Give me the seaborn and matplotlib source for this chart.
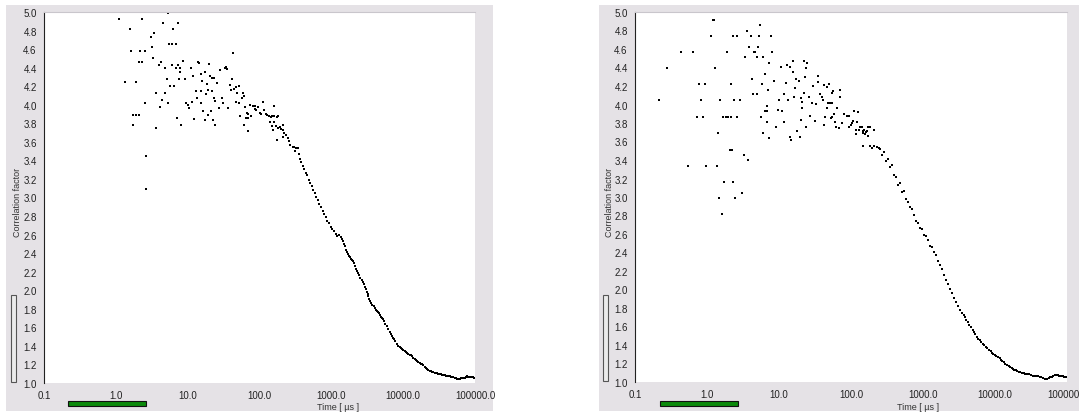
import matplotlib
matplotlib.use("Agg")
import matplotlib.pyplot as plt
import seaborn as sns
import pandas as pd
from matplotlib.patches import Rectangle

# ---------------- data ----------------
left_time_scatter = [
    1.12, 2.28, 5.25, 1.60, 4.47, 7.24, 6.17, 3.45, 3.04, 5.42,
    5.97, 6.79, 3.14, 1.65, 2.20, 2.51, 42.6, 3.34, 2.13, 2.35,
    4.19, 3.93, 8.51, 5.97, 7.24, 4.77, 6.79, 7.73, 11.0, 13.8,
    14.3, 19.7, 7.73, 15.2, 17.3, 11.7, 28.1, 32.9, 34.0, 35.1,
    20.3, 21.7, 5.08, 7.48, 9.08, 15.7, 23.1, 41.2, 1.36, 1.88,
    18.5, 25.5, 5.60, 6.37, 38.6, 46.9, 51.6, 39.9, 44.0, 19.1,
    12.9, 15.2, 21.7, 48.4, 58.7, 60.7, 3.68, 4.77, 17.9, 56.9,
    13.4, 23.1, 23.9, 29.9, 4.33, 9.38, 10.0, 11.4, 2.51, 5.25,
    15.2, 30.9, 46.9, 51.6, 62.7, 73.6, 81.1, 86.5, 95.3, 112,
    160, 4.06, 10.3, 27.2, 36.3, 66.8, 69.0, 86.5, 89.3, 116,
    16.2, 21.0, 1.76, 1.88, 2.13, 19.1, 102, 105, 123, 127,
    136, 145, 150, 160, 176, 182, 53.3, 64.7, 69.0, 76.0,
    7.01, 12.1, 17.3, 22.4, 1.76, 7.98, 23.9, 60.7, 140, 150,
    160, 170, 182, 194, 200, 213, 213, 3.68, 69.0, 155,
    220, 235, 251, 259, 176, 213, 267, 294, 304, 324,
    345, 314, 357, 368, 2.59, 2.67,
]
left_corr_scatter = [
    4.92, 4.92, 4.99, 4.82, 4.88, 4.88, 4.82, 4.77, 4.73, 4.655,
    4.655, 4.655, 4.62, 4.58, 4.58, 4.58, 4.56, 4.50, 4.46, 4.46,
    4.46, 4.43, 4.47, 4.43, 4.43, 4.40, 4.40, 4.40, 4.40, 4.46,
    4.45, 4.44, 4.35, 4.33, 4.35, 4.31, 4.37, 4.40, 4.41, 4.39,
    4.31, 4.29, 4.28, 4.28, 4.28, 4.26, 4.29, 4.28, 4.245, 4.245,
    4.22, 4.23, 4.20, 4.20, 4.21, 4.19, 4.20, 4.16, 4.17, 4.16,
    4.15, 4.15, 4.15, 4.13, 4.13, 4.09, 4.13, 4.13, 4.12, 4.07,
    4.07, 4.07, 4.04, 4.07, 4.05, 4.02, 4.00, 4.03, 4.02, 4.02,
    4.02, 4.02, 4.03, 4.02, 3.98, 4.00, 3.99, 3.99, 3.98, 4.03,
    3.99, 3.98, 3.965, 3.965, 3.965, 3.91, 3.90, 3.95, 3.94, 3.94,
    3.93, 3.93, 3.89, 3.89, 3.89, 3.89, 3.91, 3.90, 3.90, 3.89,
    3.88, 3.87, 3.88, 3.88, 3.87, 3.88, 3.88, 3.86, 3.86, 3.88,
    3.86, 3.85, 3.84, 3.84, 3.78, 3.78, 3.78, 3.78, 3.81, 3.77,
    3.81, 3.77, 3.75, 3.76, 3.74, 3.78, 3.73, 3.75, 3.72, 3.73,
    3.70, 3.67, 3.64, 3.61, 3.62, 3.65, 3.57, 3.54, 3.54, 3.53,
    3.53, 3.50, 3.47, 3.415, 3.45, 3.09,
]
left_time_curve = [
    380, 406, 419, 447, 461, 492, 508, 542, 560, 597,
    617, 658, 679, 724, 773, 798, 851, 879, 938, 1000,
    1033, 1102, 1175, 1213, 1294, 1380, 1472, 1570, 1622, 1730,
    1845, 1968, 2099, 2239, 2388, 2547, 2630, 2805, 2992, 3090,
    3289, 3397, 3622, 3864, 4121, 4256, 4539, 4688, 5000, 5333,
    5875, 6471, 6902, 7362, 8110, 8933, 9528, 10490, 11190, 12330,
    13150, 14490, 15450, 17020, 18160, 20000, 21330, 23500, 25060, 27610,
    29440, 32430, 34550, 38050, 40550, 44670, 47640, 52480, 55970, 61660,
    65770, 72440, 77270, 85110, 90780, 98000,
    # in-between channels of the dense tail
    1425, 1520, 1675, 1787, 1905, 2033, 2168, 2312, 2466, 2716,
    2897, 3188, 3507, 3741, 3990, 4395, 4841, 5164, 5595, 6165,
    6680, 7130, 7725, 8510, 9225, 10000, 10830, 11740, 12730, 13800,
    14960, 16210, 17580, 19060, 20650, 22390, 24270, 26300, 28510, 30900,
    33470, 36260, 39280, 42560, 46130, 50000, 54200, 58740, 63680, 69030,
    74820, 81100, 87900, 94300,
]
left_corr_curve = [
    3.38, 3.34, 3.31, 3.26, 3.24, 3.19, 3.16, 3.12, 3.08, 3.05,
    3.01, 2.97, 2.93, 2.90, 2.85, 2.82, 2.79, 2.75, 2.73, 2.68,
    2.66, 2.64, 2.61, 2.58, 2.60, 2.57, 2.53, 2.48, 2.43, 2.39,
    2.36, 2.33, 2.29, 2.23, 2.19, 2.13, 2.11, 2.07, 2.01, 1.98,
    1.94, 1.91, 1.86, 1.83, 1.79, 1.78, 1.75, 1.73, 1.70, 1.67,
    1.61, 1.55, 1.51, 1.47, 1.42, 1.39, 1.37, 1.345, 1.32, 1.30,
    1.29, 1.26, 1.24, 1.22, 1.205, 1.17, 1.15, 1.13, 1.12, 1.11,
    1.11, 1.10, 1.09, 1.09, 1.075, 1.075, 1.065, 1.054, 1.043, 1.043,
    1.054, 1.054, 1.075, 1.065, 1.065, 1.054,
    2.55, 2.50, 2.41, 2.37, 2.34, 2.31, 2.26, 2.21, 2.16, 2.09,
    2.04, 1.96, 1.885, 1.845, 1.81, 1.765, 1.715, 1.685, 1.64, 1.58,
    1.53, 1.49, 1.45, 1.40, 1.38, 1.36, 1.33, 1.31, 1.30, 1.27,
    1.25, 1.23, 1.21, 1.19, 1.16, 1.14, 1.125, 1.115, 1.11, 1.10,
    1.095, 1.085, 1.08, 1.075, 1.07, 1.06, 1.05, 1.043, 1.05, 1.054,
    1.065, 1.07, 1.065, 1.06,
]

right_time_scatter = [
    1.21, 1.24, 5.45, 1.14, 2.30, 2.61, 3.59, 4.09, 5.27, 7.74,
    3.83, 5.11, 0.435, 0.639, 1.90, 4.50, 4.64, 8.00, 3.37, 4.94,
    5.99, 7.27, 1.29, 10.7, 12.9, 14.2, 15.6, 22.2, 24.5, 23.7,
    15.6, 6.40, 34.8, 23.0, 4.22, 8.53, 17.2, 19.0, 34.8, 49.5,
    0.774, 0.938, 2.15, 5.81, 12.5, 42.2, 46.4, 29.6, 16.7, 7.03,
    56.2, 54.4, 70.3, 4.35, 4.94, 11.7, 22.2, 26.1, 37.1, 39.5,
    70.3, 16.1, 20.2, 0.826, 1.52, 2.37, 2.87, 10.0, 13.3, 40.8,
    48.0, 51.0, 54.4, 28.7, 32.6, 20.8, 6.81, 6.40, 6.81, 11.0,
    9.68, 20.8, 46.4, 63.9, 80.0, 87.9, 93.8, 110, 125, 58.1,
    52.7, 54.4, 43.5, 27.0, 31.6, 20.2, 0.726, 0.880, 1.67, 1.84,
    1.96, 2.15, 2.61, 5.62, 6.81, 9.08, 11.7, 23.7, 17.8, 14.2,
    14.7, 19.6, 42.2, 60.0, 61.9, 68.1, 75.0, 103, 107, 121,
    93.8, 100, 117, 117, 133, 142, 129, 147, 152, 162,
    167, 172, 184, 208, 147, 157, 172, 1.42, 5.99, 7.27,
    147, 184, 196, 208, 230, 245, 2.08, 2.22, 3.27, 3.71,
    0.544, 0.968, 1.38, 1.72, 2.30, 3.06, 1.47, 2.45, 0.278, 0.215,
    1.62,
]
right_corr_scatter = [
    4.91, 4.91, 4.86, 4.74, 4.74, 4.74, 4.79, 4.74, 4.74, 4.74,
    4.62, 4.62, 4.57, 4.57, 4.57, 4.57, 4.57, 4.57, 4.51, 4.51,
    4.51, 4.45, 4.39, 4.405, 4.43, 4.405, 4.47, 4.47, 4.45, 4.39,
    4.35, 4.33, 4.31, 4.30, 4.28, 4.25, 4.28, 4.25, 4.24, 4.22,
    4.22, 4.22, 4.22, 4.22, 4.23, 4.21, 4.19, 4.20, 4.18, 4.16,
    4.15, 4.12, 4.16, 4.11, 4.11, 4.11, 4.12, 4.08, 4.11, 4.08,
    4.08, 4.08, 4.07, 4.05, 4.05, 4.05, 4.05, 4.05, 4.05, 4.05,
    4.02, 4.02, 4.02, 4.02, 4.01, 4.03, 3.98, 3.93, 3.93, 3.93,
    3.94, 3.96, 3.96, 3.96, 3.90, 3.88, 3.88, 3.93, 3.92, 3.90,
    3.85, 3.86, 3.86, 3.88, 3.82, 3.83, 3.86, 3.86, 3.86, 3.86,
    3.86, 3.86, 3.86, 3.86, 3.81, 3.76, 3.81, 3.76, 3.71, 3.65,
    3.62, 3.65, 3.78, 3.81, 3.76, 3.75, 3.80, 3.80, 3.82, 3.81,
    3.76, 3.78, 3.72, 3.68, 3.76, 3.76, 3.72, 3.71, 3.72, 3.70,
    3.71, 3.76, 3.76, 3.72, 3.69, 3.68, 3.66, 3.69, 3.69, 3.64,
    3.55, 3.55, 3.53, 3.55, 3.54, 3.53, 3.51, 3.51, 3.45, 3.40,
    3.34, 3.34, 3.34, 3.16, 3.16, 3.04, 2.99, 2.99, 4.39, 4.05,
    2.82,
]
right_time_curve = [
    253, 270, 287, 306, 326, 348, 371, 395, 422, 450,
    480, 511, 545, 581, 619, 660, 703, 750, 799, 853,
    909, 969, 1033, 1101, 1173, 1251, 1334, 1422, 1516, 1616,
    1722, 1836, 1957, 2086, 2224, 2371, 2528, 2695, 2873, 3063,
    3265, 3481, 3831, 4217, 4642, 5109, 5623, 6189, 6812, 7499,
    8254, 9085, 10000, 11010, 12120, 13340, 14680, 16160, 17780, 19570,
    21540, 23710, 26100, 28730, 31620, 34810, 38310, 42170, 46420, 51090,
    56230, 61890, 68130, 74990, 82540, 90850, 98000,
    # in-between channels of the dense tail
    3652, 4019, 4424, 4870, 5360, 5899, 6493, 7147, 7867, 8660,
    9530, 10490, 11550, 12710, 13990, 15400, 16950, 18650, 20530, 22600,
    24880, 27380, 30140, 33180, 36520, 40190, 44240, 48700, 53600, 58990,
    64930, 71480, 78670, 86600, 94360,
]
right_corr_curve = [
    3.52, 3.45, 3.49, 3.39, 3.41, 3.32, 3.35, 3.24, 3.22, 3.13,
    3.15, 3.05, 3.06, 2.98, 2.95, 2.89, 2.87, 2.81, 2.74, 2.72,
    2.66, 2.65, 2.59, 2.58, 2.54, 2.47, 2.46, 2.41, 2.37, 2.31,
    2.26, 2.22, 2.16, 2.10, 2.06, 2.01, 1.96, 1.91, 1.86, 1.82,
    1.78, 1.75, 1.70, 1.65, 1.59, 1.54, 1.49, 1.45, 1.41, 1.38,
    1.35, 1.31, 1.29, 1.27, 1.24, 1.22, 1.18, 1.16, 1.14, 1.13,
    1.11, 1.10, 1.09, 1.09, 1.08, 1.065, 1.065, 1.054, 1.043, 1.03,
    1.043, 1.054, 1.08, 1.08, 1.065, 1.054, 1.054,
    1.725, 1.675, 1.62, 1.565, 1.515, 1.47, 1.43, 1.395, 1.365, 1.33,
    1.30, 1.28, 1.255, 1.23, 1.20, 1.17, 1.15, 1.135, 1.12, 1.105,
    1.095, 1.09, 1.085, 1.07, 1.065, 1.06, 1.05, 1.035, 1.035, 1.05,
    1.065, 1.08, 1.07, 1.06, 1.054,
]

x_ticks = [0.1, 1, 10, 100, 1000, 10000, 100000]
x_tick_labels = ["0.1", "1.0", "10.0", "100.0", "1000.0", "10000.0", "100000.0"]
y_ticks = [1.0 + 0.2 * i for i in range(21)]
y_tick_labels = [f"{v:.1f}" for v in y_ticks]

# ---------------- figure ----------------
sns.set_style("white")
plt.rcParams['font.family'] = ['Liberation Sans', 'DejaVu Sans']

W, H = 1079, 414
fig = plt.figure(figsize=(W / 100, H / 100), dpi=100)
fig.patch.set_facecolor("white")


def box(x0, y0, x1, y1):
    return (x0 / W, 1 - y1 / H, (x1 - x0) / W, (y1 - y0) / H)


def rect(x0, y0, x1, y1, **kw):
    l, b, w, h = box(x0, y0, x1, y1)
    fig.patches.append(Rectangle((l, b), w, h, transform=fig.transFigure, **kw))


panel_grey = "#e5e2e6"
rect(6, 6, 493, 412, facecolor=panel_grey, edgecolor="none", zorder=-10)
rect(599, 6, 1079, 412, facecolor=panel_grey, edgecolor="none", zorder=-10)

panels = [
    dict(ax=(44, 13, 475, 384), ts=left_time_scatter, cs=left_corr_scatter,
         tc=left_time_curve, cc=left_corr_curve, ylab=17, xlab=338,
         green=(68, 402, 146, 407), vbar=(11, 296, 16, 383)),
    dict(ax=(635, 13, 1067, 383), ts=right_time_scatter, cs=right_corr_scatter,
         tc=right_time_curve, cc=right_corr_curve, ylab=609, xlab=918,
         green=(660, 402, 738, 407), vbar=(603, 296, 608, 382)),
]

for p in panels:
    ax = fig.add_axes(box(*p["ax"]))
    ax.set_zorder(1)
    ax.set_facecolor("white")
    df = pd.DataFrame({
        "time": list(p["ts"]) + list(p["tc"]),
        "corr": list(p["cs"]) + list(p["cc"]),
    })
    sns.scatterplot(data=df, x="time", y="corr", ax=ax, marker="s", s=4.5,
                    color="black", linewidth=0, legend=False)
    ax.set_xscale("log")
    ax.set_xlim(0.1, 100000)
    ax.set_ylim(1.0, 5.0)
    ax.set_xticks(x_ticks)
    ax.set_xticklabels(x_tick_labels)
    ax.minorticks_off()
    ax.set_yticks(y_ticks)
    ax.set_yticklabels(y_tick_labels)
    ax.tick_params(axis="both", direction="out", length=4, width=0.8,
                   color="#222222", labelsize=7, labelcolor="#222222", pad=1.2)
    ax.set_xlabel("")
    ax.set_ylabel("")
    for side in ["right", "bottom"]:
        ax.spines[side].set_visible(False)
    ax.spines["left"].set_color("#222222")
    ax.spines["left"].set_linewidth(0.8)
    ax.spines["top"].set_color("#c9c6cc")
    ax.spines["top"].set_linewidth(0.8)

    fig.text(p["ylab"] / W, 1 - 202 / H, "Correlation factor", rotation=90,
             ha="center", va="center", fontsize=6.5, color="#333333", zorder=3)
    fig.text(p["xlab"] / W, 1 - 407.5 / H, "Time [ µs ]", ha="center",
             va="center", fontsize=6.5, color="#333333", zorder=3)
    rect(*p["green"], facecolor="#0b8a0b", edgecolor="#111111", linewidth=0.8, zorder=3)
    rect(*p["vbar"], facecolor="#ebebeb", edgecolor="#555555", linewidth=0.8, zorder=3)

fig.savefig("out.png", dpi=100, facecolor="white")
